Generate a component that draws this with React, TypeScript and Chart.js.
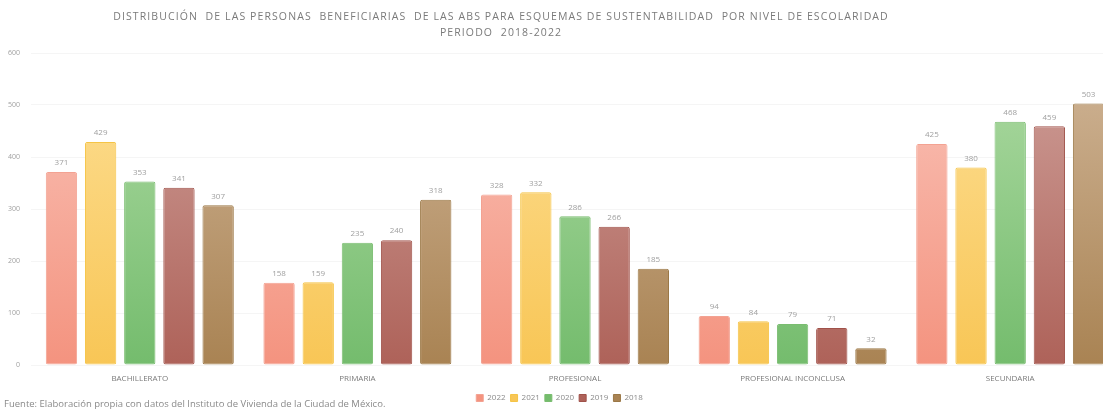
import React, { useEffect, useRef } from "react";
import { Chart, registerables } from "chart.js";

Chart.register(...registerables);

const categories = ["BACHILLERATO", "PRIMARIA", "PROFESIONAL", "PROFESIONAL INCONCLUSA", "SECUNDARIA"];
const years = ["2022", "2021", "2020", "2019", "2018"];
const values2022 = [371, 158, 328, 94, 425];
const values2021 = [429, 159, 332, 84, 380];
const values2020 = [353, 235, 286, 79, 468];
const values2019 = [341, 240, 266, 71, 459];
const values2018 = [307, 318, 185, 32, 503];
const yTicks = [0, 100, 200, 300, 400, 500, 600];
const titleLines = [
  "DISTRIBUCIÓN  DE LAS PERSONAS  BENEFICIARIAS  DE LAS ABS PARA ESQUEMAS DE SUSTENTABILIDAD  POR NIVEL DE ESCOLARIDAD",
  "PERIODO  2018-2022",
];
const sourceText = "Fuente: Elaboración propia con datos del Instituto de Vivienda de la Ciudad de México.";

const seriesValues = [values2022, values2021, values2020, values2019, values2018];
const gradTop = ["#F9C3B8", "#FDDF95", "#AEDAA3", "#CFA09A", "#D0B597"];
const gradBottom = ["#F4937F", "#F8C656", "#74BC6D", "#AE6259", "#A98353"];
const borders = ["#F3A292", "#F5C445", "#7ABD70", "#A0524A", "#9B7846"];

const textPlugin = {
  id: "texts",
  afterDatasetsDraw(chart: any) {
    const ctx = chart.ctx;
    ctx.save();
    // value labels
    ctx.font = "8px 'Open Sans', sans-serif";
    ctx.fillStyle = "#a0a0a0";
    ctx.textAlign = "center";
    ctx.textBaseline = "bottom";
    chart.data.datasets.forEach((ds: any, i: number) => {
      const meta = chart.getDatasetMeta(i);
      meta.data.forEach((bar: any, j: number) => {
        ctx.fillText(String(ds.data[j]), bar.x, bar.y - 5);
      });
    });
    // title
    ctx.font = "10.5px 'Open Sans', sans-serif";
    ctx.fillStyle = "#7a7a7a";
    (ctx as any).letterSpacing = "1.1px";
    ctx.textBaseline = "middle";
    ctx.fillText(titleLines[0], 501, 17);
    ctx.fillText(titleLines[1], 501, 33);
    (ctx as any).letterSpacing = "0px";
    // source
    ctx.font = "9.5px 'Open Sans', sans-serif";
    ctx.fillStyle = "#8a8a8a";
    ctx.textAlign = "left";
    ctx.fillText(sourceText, 4, 404);
    ctx.restore();
  },
};

export default function App() {
  const ref = useRef<HTMLCanvasElement>(null);
  useEffect(() => {
    if (!ref.current) return;
    const makeGrad = (i: number) => (c: any) => {
      const ch = c.chart;
      const a = ch.chartArea;
      if (!a) return gradBottom[i];
      const g = ch.ctx.createLinearGradient(0, a.top, 0, a.bottom);
      g.addColorStop(0, gradTop[i]);
      g.addColorStop(1, gradBottom[i]);
      return g;
    };
    const chart = new Chart(ref.current, {
      type: "bar",
      data: {
        labels: categories,
        datasets: years.map((y, i) => ({
          label: y,
          data: seriesValues[i],
          backgroundColor: makeGrad(i),
          borderColor: borders[i],
          borderWidth: 1,
          borderRadius: 2,
          borderSkipped: false,
          categoryPercentage: 0.9,
          barPercentage: 0.8,
        })),
      },
      options: {
        animation: false,
        responsive: false,
        layout: { padding: { top: 53, right: 6, left: 0, bottom: -3 } },
        plugins: {
          tooltip: { enabled: false },
          title: { display: false },
          legend: {
            position: "bottom",
            labels: {
              boxWidth: 7,
              boxHeight: 7,
              padding: 5,
              color: "#8a8a8a",
              font: { size: 8, family: "'Open Sans', sans-serif" },
              generateLabels: (ch: any) =>
                ch.data.datasets.map((d: any, i: number) => ({
                  text: d.label,
                  fillStyle: gradBottom[i],
                  strokeStyle: borders[i],
                  lineWidth: 1,
                  fontColor: "#8a8a8a",
                  datasetIndex: i,
                })),
            },
          },
        },
        scales: {
          x: {
            grid: { display: false },
            border: { display: false },
            ticks: {
              color: "#7a7a7a",
              font: { size: 8, family: "'Open Sans', sans-serif" },
              padding: 1,
              maxRotation: 0,
            },
            afterFit: (s: any) => {
              s.height = 24;
            },
          },
          y: {
            min: 0,
            max: 600,
            afterBuildTicks: (s: any) => {
              s.ticks = yTicks.map((v) => ({ value: v }));
            },
            grid: { color: "#f5f5f5", drawTicks: false },
            border: { display: false },
            ticks: {
              color: "#a0a0a0",
              font: { size: 7, family: "'Open Sans', sans-serif" },
              padding: 11,
            },
            afterFit: (s: any) => {
              s.width = 31;
            },
          },
        },
      },
      plugins: [textPlugin],
    });
    return () => chart.destroy();
  }, []);
  return (
    <div style={{ position: "fixed", left: 0, top: 0, width: 1103, height: 409, overflow: "hidden", background: "#fff" }}>
      <canvas ref={ref} width={1125} height={409} style={{ display: "block", width: 1125, height: 409 }} />
    </div>
  );
}
